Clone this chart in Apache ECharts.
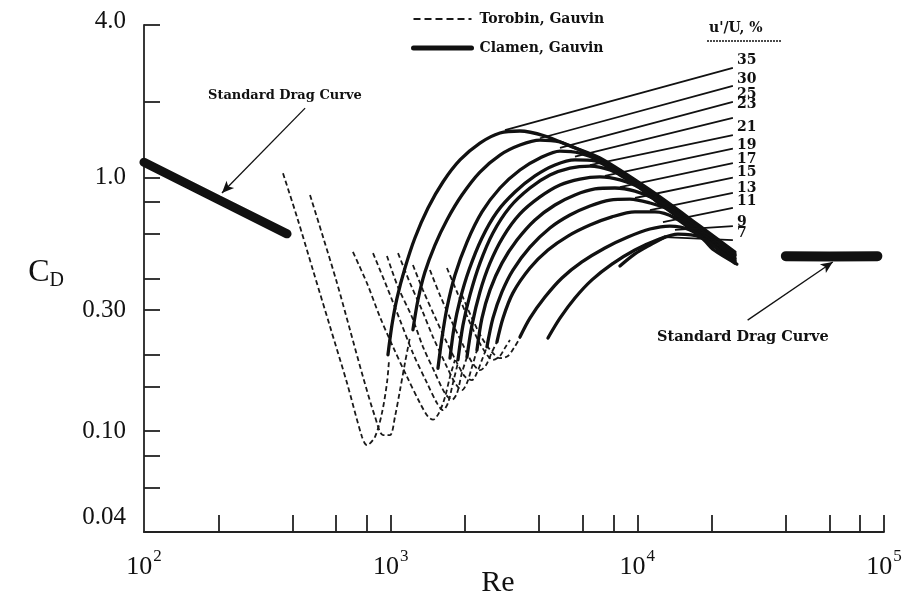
<!DOCTYPE html>
<html><head><meta charset="utf-8">
<script src="https://cdn.jsdelivr.net/npm/echarts@6/dist/echarts.min.js"></script>
<style>html,body{margin:0;padding:0;background:#fff}#c{width:904px;height:598px}</style>
</head><body><div id="c"></div>
<script>
// ---------- axis ticks / labels ----------
const xTickValues = [200,400,600,800,1000,2000,4000,6000,8000,10000,20000,40000,60000,80000,100000];
const xLabelValues = [100,1000,10000,100000];
const yTickValues = [4,2,1,0.8,0.6,0.4,0.3,0.2,0.15,0.1,0.08,0.06];
const yLabelValues = [4,1,0.3,0.1,0.04];
const yLabelTexts = ['4.0','1.0','0.30','0.10','0.04'];

// ---------- standard drag curve ----------
const standardLow = [[100,1.15],[200,0.82],[380,0.6]];
const standardHigh = [[40000,0.49],[60000,0.488],[94000,0.49]];

// ---------- Torobin & Gauvin (dashed) : [Re, CD] ----------
const torobin = [
  [[366,1.04],[417,0.70],[484,0.432],[568,0.258],[665,0.155],[765,0.095],[801,0.088],[864,0.095],[922,0.118],[966,0.155],[985,0.191]],
  [[471,0.854],[532,0.583],[606,0.384],[684,0.251],[772,0.164],[864,0.114],[931,0.0965],[994,0.0965],[1041,0.114],[1091,0.145],[1143,0.186],[1198,0.235]],
  [[703,0.509],[801,0.384],[905,0.282],[1022,0.215],[1164,0.164],[1315,0.129],[1417,0.114],[1485,0.111],[1570,0.118],[1660,0.136],[1740,0.164],[1823,0.191]],
  [[848,0.504],[966,0.37],[1091,0.274],[1231,0.203],[1403,0.155],[1541,0.129],[1629,0.121],[1707,0.129],[1789,0.155],[1874,0.186]],
  [[966,0.491],[1071,0.37],[1220,0.282],[1352,0.215],[1512,0.17],[1660,0.141],[1773,0.133],[1857,0.141],[1945,0.17],[2039,0.196]],
  [[1071,0.504],[1198,0.384],[1340,0.30],[1485,0.235],[1660,0.186],[1823,0.155],[1945,0.145],[2039,0.155],[2136,0.179],[2238,0.209]],
  [[1231,0.452],[1352,0.36],[1512,0.282],[1691,0.223],[1857,0.186],[2001,0.164],[2136,0.159],[2238,0.17],[2345,0.191],[2457,0.215]],
  [[1443,0.432],[1584,0.344],[1773,0.269],[1964,0.219],[2136,0.187],[2301,0.174],[2434,0.182],[2574,0.205],[2697,0.225]],
  [[1691,0.44],[1857,0.354],[2058,0.279],[2259,0.229],[2457,0.2],[2598,0.191],[2774,0.198],[2906,0.213],[3045,0.229]],
  [[1945,0.344],[2136,0.279],[2345,0.233],[2574,0.205],[2774,0.194],[2988,0.198],[3161,0.213],[3343,0.233]]
];

// ---------- Clamen & Gauvin (solid) : [Re, CD], u'/U = 35 ... 7 % ----------
const clamen = [
  [[975,0.2],[1012,0.262],[1061,0.335],[1143,0.44],[1254,0.578],[1417,0.759],[1629,0.961],[1910,1.174],[2301,1.369],[2774,1.5],[3343,1.527],[4222,1.459],[5332,1.333],[7053,1.195],[11249,0.894],[17939,0.644],[24874,0.509]],
  [[1231,0.251],[1290,0.329],[1377,0.424],[1512,0.542],[1691,0.681],[1945,0.854],[2301,1.052],[2774,1.228],[3343,1.345],[4030,1.407],[4857,1.382],[5852,1.285],[7053,1.174],[11249,0.877],[17939,0.633],[24874,0.5]],
  [[1555,0.177],[1614,0.233],[1691,0.306],[1823,0.413],[2039,0.557],[2345,0.732],[2774,0.91],[3343,1.072],[4030,1.195],[4857,1.273],[5852,1.25],[7053,1.163],[11249,0.87],[17939,0.627],[24874,0.495]],
  [[1740,0.194],[1806,0.255],[1910,0.329],[2077,0.432],[2345,0.578],[2697,0.732],[3191,0.877],[3846,1.015],[4634,1.121],[5586,1.174],[6731,1.163],[8502,1.024],[11249,0.862],[17939,0.622],[24874,0.491]],
  [[1874,0.191],[1964,0.262],[2096,0.344],[2301,0.46],[2598,0.605],[3045,0.766],[3670,0.91],[4423,1.024],[5332,1.091],[6426,1.111],[7743,1.072],[9333,0.979],[11249,0.846],[17939,0.61],[24874,0.482]],
  [[2039,0.196],[2136,0.262],[2301,0.354],[2526,0.46],[2853,0.583],[3343,0.719],[4030,0.839],[4857,0.935],[5852,0.987],[7053,1.006],[8502,0.979],[10245,0.91],[12348,0.787],[17939,0.605],[24874,0.478]],
  [[2238,0.209],[2345,0.279],[2526,0.36],[2826,0.46],[3251,0.567],[3846,0.681],[4634,0.78],[5586,0.854],[6731,0.902],[8113,0.91],[9779,0.885],[11785,0.823],[14885,0.706],[17939,0.599],[24874,0.473]],
  [[2457,0.215],[2598,0.279],[2826,0.354],[3131,0.432],[3670,0.532],[4423,0.633],[5332,0.712],[6426,0.773],[7743,0.816],[9333,0.823],[11249,0.794],[13556,0.745],[17939,0.594],[24874,0.469]],
  [[2697,0.225],[2853,0.279],[3131,0.351],[3670,0.44],[4342,0.518],[5233,0.588],[6426,0.65],[7890,0.7],[9779,0.732],[11785,0.732],[14205,0.693],[17939,0.588],[24874,0.465]],
  [[3343,0.235],[3670,0.279],[4222,0.338],[4948,0.402],[5963,0.465],[7390,0.528],[9159,0.583],[11249,0.627],[13556,0.644],[16341,0.622],[19697,0.552],[24874,0.46]],
  [[4342,0.233],[4857,0.279],[5586,0.335],[6546,0.395],[7890,0.456],[9779,0.518],[12005,0.567],[14610,0.599],[17939,0.583],[20440,0.518],[25330,0.456]],
  [[8502,0.448],[9779,0.5],[11249,0.542],[12939,0.583]]
];

// ---------- leader lines to the u'/U labels ----------
const turbPct = ['35','30','25','23','21','19','17','15','13','11','9','7'];
const leaderStart = [[2906,1.54],[4030,1.43],[4857,1.31],[5586,1.21],[6426,1.12],[7390,1.015],[8502,0.918],[9779,0.831],[11249,0.745],[12700,0.668],[14205,0.622],[12939,0.583]];
const leaderEnd = [[24400,2.71],[24400,2.30],[24400,1.99],[24400,1.72],[24400,1.47],[24400,1.30],[24400,1.14],[24400,1.00],[24400,0.87],[24400,0.76],[24400,0.644],[24400,0.567]];

// ---------- annotation arrows (tail, head) ----------
const arrowLow = [[450,1.88],[207,0.87]];
const arrowHigh = [[28000,0.274],[62000,0.465]];

// ---------- layout / style only ----------
const labelDy = [-8,-7,-8,-14,-8,-3,-4,-5,-5,-6,-4,-7];
const INK = '#111';
const serif = 'Liberation Serif';
const slab = 'DejaVu Serif';

const series = [];
torobin.forEach(c => series.push({
  type:'line', name:'Torobin, Gauvin', data:c, symbol:'none', smooth:0.3,
  itemStyle:{color:INK},
  lineStyle:{color:'#1a1a1a', width:1.8, type:[5,3]}, z:2, silent:true
}));
clamen.forEach(c => series.push({
  type:'line', name:'Clamen, Gauvin', data:c, symbol:'none', smooth:0.3,
  itemStyle:{color:INK},
  lineStyle:{color:INK, width:3.3, cap:'round', join:'round'}, z:3, silent:true
}));
turbPct.forEach((p,i) => series.push({
  type:'line', name:"u'/U " + p + ' %', data:[leaderStart[i], leaderEnd[i]], symbol:'none',
  itemStyle:{color:INK},
  lineStyle:{color:INK, width:1.8}, z:3, silent:true,
  endLabel:{show:true, formatter:p, distance:4, offset:[0,labelDy[i]],
    fontFamily:slab, fontWeight:'bold', fontSize:14, color:INK}
}));
series.push({
  type:'line', name:'Standard Drag Curve', data:standardLow, symbol:'none',
  itemStyle:{color:INK},
  lineStyle:{color:INK, width:9, cap:'round'}, z:4, silent:true,
  markLine:{silent:true, symbol:['none','arrow'], symbolSize:[8,12], animation:false,
    lineStyle:{color:INK, width:1.3, type:'solid'}, label:{show:false},
    data:[[{coord:arrowLow[0]},{coord:arrowLow[1]}]]}
});
series.push({
  type:'line', name:'Standard Drag Curve', data:standardHigh, symbol:'none',
  itemStyle:{color:INK},
  lineStyle:{color:INK, width:10, cap:'round'}, z:4, silent:true,
  markLine:{silent:true, symbol:['none','arrow'], symbolSize:[8,12], animation:false,
    lineStyle:{color:INK, width:1.3, type:'solid'}, label:{show:false},
    data:[[{coord:arrowHigh[0]},{coord:arrowHigh[1]}]]}
});

function yLabel(v){
  for (let i=0;i<yLabelValues.length;i++){
    if (Math.abs(Math.log10(v) - Math.log10(yLabelValues[i])) < 1e-4) {
      if (i === 0) return '{hi|' + yLabelTexts[i] + '}';
      if (i === yLabelValues.length - 1) return '{lo|' + yLabelTexts[i] + '}';
      return yLabelTexts[i];
    }
  }
  return '';
}

const chart = echarts.init(document.getElementById('c'), null, {renderer:'canvas'});
chart.setOption({
  animation:false,
  backgroundColor:'#fff',
  grid:{left:144, right:20, top:25, bottom:66, containLabel:false, outerBoundsMode:'none'},
  legend:{
    data:[
      {name:'Torobin, Gauvin', lineStyle:{width:2.2, type:[7,4]}},
      {name:'Clamen, Gauvin', lineStyle:{width:5}}
    ],
    orient:'vertical', left:406, top:7,
    itemWidth:58, itemHeight:14, itemGap:15, selectedMode:false,
    itemStyle:{opacity:0},
    textStyle:{fontFamily:slab, fontWeight:'bold', fontSize:14, color:INK, padding:[0,0,0,3]}
  },
  xAxis:{
    type:'log', logBase:10, min:100, max:100000,
    name:'Re', nameLocation:'middle', nameGap:36, nameMoveOverlap:false,
    nameTextStyle:{fontFamily:serif, fontSize:30, color:INK, padding:[0,32,0,0]},
    axisLine:{lineStyle:{color:'#222', width:1.8}},
    axisTick:{show:true, inside:true, length:17, customValues:xTickValues, lineStyle:{color:'#222', width:1.8}},
    axisLabel:{
      customValues:xLabelValues, margin:16,
      formatter:v => '{b|10}{s|' + Math.round(Math.log10(v)) + '}',
      rich:{
        b:{fontFamily:serif, fontSize:26, color:INK, lineHeight:32, verticalAlign:'bottom'},
        s:{fontFamily:serif, fontSize:17, color:INK, verticalAlign:'top', padding:[0,0,0,1]}
      }
    },
    splitLine:{show:false}
  },
  yAxis:{
    type:'log', logBase:10, min:0.04, max:4,
    name:'{c|C}{d|D}', nameLocation:'middle', nameGap:80, nameRotate:0, nameMoveOverlap:false,
    nameTextStyle:{fontSize:32, padding:[0,0,12,0], rich:{
      c:{fontFamily:serif, fontSize:32, color:INK, lineHeight:36},
      d:{fontFamily:serif, fontSize:20, color:INK, verticalAlign:'bottom'}
    }},
    axisLine:{lineStyle:{color:'#222', width:1.8}},
    axisTick:{show:true, inside:true, length:16, customValues:yTickValues, lineStyle:{color:'#222', width:1.8}},
    axisLabel:{
      customValues:yLabelValues, margin:18, formatter:yLabel,
      fontFamily:serif, fontSize:25, color:INK,
      verticalAlignMinLabel:'middle', verticalAlignMaxLabel:'middle',
      rich:{
        hi:{fontFamily:serif, fontSize:25, color:INK, padding:[0,0,8,0]},
        lo:{fontFamily:serif, fontSize:25, color:INK, padding:[0,0,30,0]}
      }
    },
    splitLine:{show:false}
  },
  graphic:[
    {type:'text', left:208, top:89, silent:true,
      style:{text:'Standard Drag Curve', fontFamily:slab, fontWeight:'bold', fontSize:13, fill:INK}},
    {type:'text', left:657, top:330, silent:true,
      style:{text:'Standard Drag Curve', fontFamily:slab, fontWeight:'bold', fontSize:14.5, fill:INK}},
    {type:'text', left:709, top:21, silent:true,
      style:{text:"u'/U, %", fontFamily:slab, fontWeight:'bold', fontSize:14, fill:INK}},
    {type:'line', silent:true, shape:{x1:707, y1:41, x2:782, y2:41},
      style:{stroke:INK, lineWidth:1.5, lineDash:[2,1]}}
  ],
  series:series
});
</script>
</body></html>
